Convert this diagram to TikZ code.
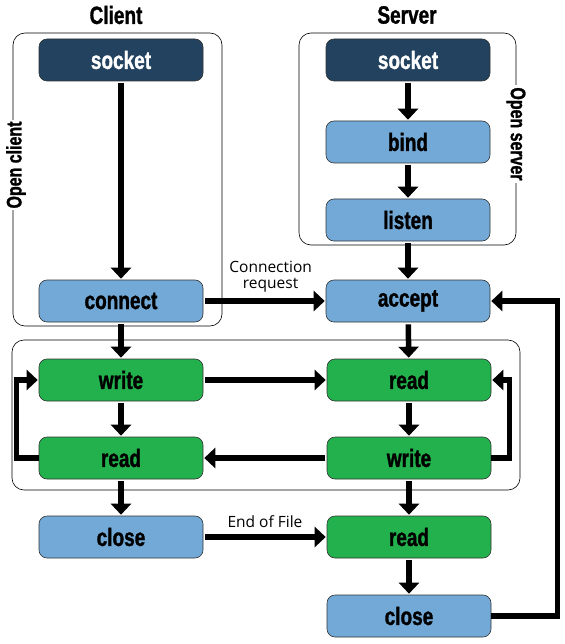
\documentclass[tikz,border=0pt]{standalone}
\usepackage{fontspec}
\setmainfont{Liberation Sans}
\newfontfamily\boxfont[FakeStretch=0.76,FakeBold=1.2]{Liberation Sans}
\newfontfamily\labfont{Open Sans}
\usetikzlibrary{arrows.meta}
\definecolor{sockblue}{HTML}{22425F}
\definecolor{callblue}{HTML}{72A9D6}
\definecolor{iogreen}{HTML}{22B14C}
\begin{document}
\begin{tikzpicture}[x=1pt,y=-1pt]

    \tikzset{
      call/.style={
        draw=black!80,
        line width=0.6pt,
        rounded corners=8pt,
        minimum width=164pt,
        minimum height=42pt,
        inner sep=0pt,
        fill=callblue,
        font=\boxfont\bfseries\fontsize{25}{25}\selectfont,
      },
      sockcall/.style={call, fill=sockblue, text=white},
      iocall/.style={call, fill=iogreen},
      group/.style={draw, line width=0.6pt, rounded corners=12pt},
      grouplabel/.style={fill=white, inner sep=2pt,
        font=\boxfont\bfseries\fontsize{21}{21}\selectfont},
      title/.style={font=\boxfont\bfseries\fontsize{25}{25}\selectfont},
      flow/.style={line width=5.5pt, -{Triangle[width=20pt,length=11pt]},
        shorten <=2pt, shorten >=1pt},
      msg/.style={font=\labfont\fontsize{15.5}{16}\selectfont, align=center},
    }
    \useasboundingbox (0,0) rectangle (564,644);

    % groups
    \draw[group] (13,33) rectangle (222,326);
    \draw[group] (299,33) rectangle (516,245);
    \draw[group] (12,340) rectangle (520,490);
    \node[grouplabel, rotate=90] (openc) at (16,165) {Open client};
    \node[grouplabel, rotate=-90] (opens) at (516,134) {Open server};
    \node[title] (client) at (116,15) {Client};
    \node[title] (server) at (407,15) {Server};

    % client side
    \node[sockcall] (csock) at (121,60) {socket};
    \node[call] (cconn) at (121,301) {connect};
    \node[iocall] (cwrite) at (121,380) {write};
    \node[iocall] (cread) at (121,458) {read};
    \node[call] (cclose) at (121,537) {close};

    % server side
    \node[sockcall] (ssock) at (408,60) {socket};
    \node[call] (sbind) at (408,142) {bind};
    \node[call] (slisten) at (408,220) {listen};
    \node[call] (saccept) at (408,301) {accept};
    \node[iocall] (sread) at (409,380) {read};
    \node[iocall] (swrite) at (409,458) {write};
    \node[iocall] (sread2) at (409,537) {read};
    \node[call] (sclose) at (409,616) {close};

    \draw[flow] (csock) -- (cconn);
    \draw[flow] (cconn) -- (cwrite);
    \draw[flow] (cwrite) -- (cread);
    \draw[flow] (cread) -- (cclose);
    \draw[flow] (ssock) -- (sbind);
    \draw[flow] (sbind) -- (slisten);
    \draw[flow] (slisten) -- (saccept);
    \draw[flow] (saccept) -- (sread);
    \draw[flow] (sread) -- (swrite);
    \draw[flow] (swrite) -- (sread2);
    \draw[flow] (sread2) -- (sclose);

    \draw[flow] (cconn) -- node[msg, above=3pt, pos=0.55] {Connection\\request} (saccept);
    \draw[flow] (cwrite) -- (sread);
    \draw[flow] (swrite) -- (cread);
    \draw[flow] (cclose) -- node[msg, above=3pt, pos=0.5] {End of File} (sread2);

    % loops
    \draw[flow, shorten <=0pt] (cread.west) -- ++(-22,0) |- (cwrite.west);
    \draw[flow, shorten <=0pt] (swrite.east) -- ++(18,0) |- (sread.east);
    \draw[flow, shorten <=0pt] (sclose.east) -- ++(66,0) |- (saccept.east);

\end{tikzpicture}
\end{document}
